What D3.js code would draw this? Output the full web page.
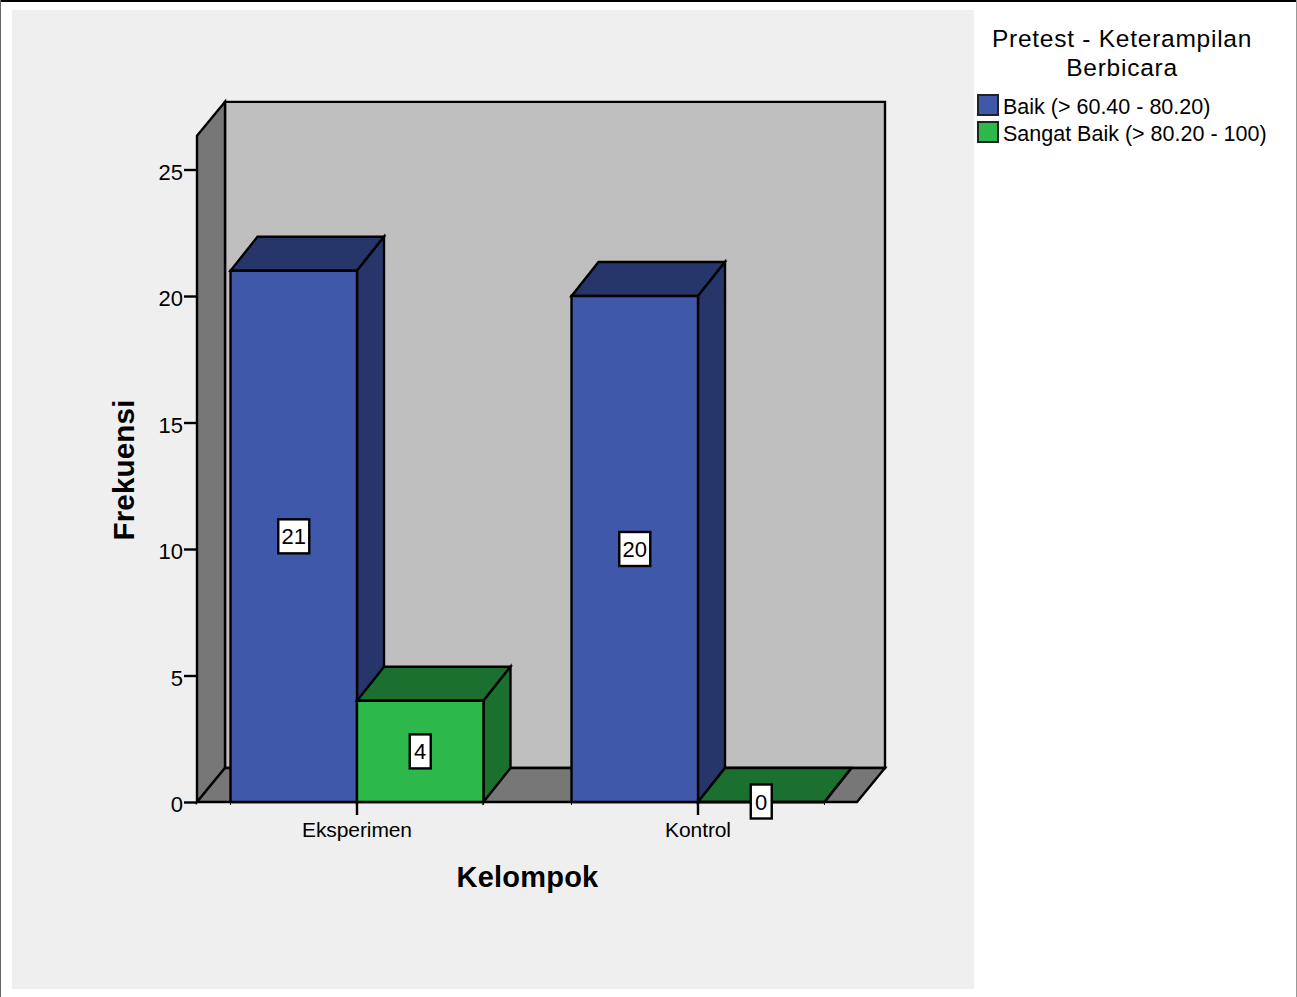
<!DOCTYPE html>
<meta charset="utf-8">
<style>
  body { margin: 0; background: #fff; }
  text { font-family: "Liberation Sans", Arial, sans-serif; fill: #000; }
</style>
<body>
<script src="https://d3js.org/d3.v7.min.js"></script>
<script>

var categories = ["Eksperimen", "Kontrol"];
var seriesNames = ["Baik (> 60.40 - 80.20)", "Sangat Baik (> 80.20 - 100)"];
var baikValues = [21, 20];
var sangatBaikValues = [4, 0];
var yTicks = [0, 5, 10, 15, 20, 25];
var legendTitle = ["Pretest - Keterampilan", "Berbicara"];
var xTitle = "Kelompok";
var yTitle = "Frekuensi";
var seriesValues = [baikValues, sangatBaikValues];

var width = 1297, height = 997;
var frontColors = ["#3f58a9", "#2db84b"];
var darkColors = ["#26366b", "#1c702f"];
var dx = 28, dy = -34;   // depth of the walls
var barDx = 27;          // depth of the bars
var axisTop = 26.33;     // value at the top of the front of the box

var svg = d3.select("body").append("svg")
  .attr("width", width)
  .attr("height", height)
  .style("display", "block");

// window edges
svg.append("rect").attr("x", 0).attr("y", 0).attr("width", width).attr("height", 2).attr("fill", "#000");
svg.append("rect").attr("x", 0).attr("y", 0).attr("width", 1).attr("height", height).attr("fill", "#666");
svg.append("rect").attr("x", width - 1).attr("y", 0).attr("width", 1).attr("height", height).attr("fill", "#999");

// chart panel
svg.append("rect").attr("x", 12).attr("y", 10).attr("width", 962).attr("height", 979).attr("fill", "#efefef");

var y = d3.scaleLinear().domain([0, 25]).range([802, 169.5]);
var x0 = d3.scaleBand().domain(categories).range([186.5, 868.5]);
var x1 = d3.scaleBand().domain(d3.range(seriesNames.length)).range([0, x0.bandwidth()])
  .paddingInner(0).paddingOuter(0.348);

var floorLeft = 197, floorRight = 857;
var yBase = y(0), yTop = y(axisTop);

function poly(points, fill) {
  return svg.append("polygon")
    .attr("points", points.map(function (p) { return p.join(","); }).join(" "))
    .attr("fill", fill)
    .attr("stroke", "#000")
    .attr("stroke-width", 2.4)
    .attr("stroke-linejoin", "miter");
}

// walls and floor
poly([[floorLeft + dx, yTop + dy], [floorRight + dx, yTop + dy], [floorRight + dx, yBase + dy], [floorLeft + dx, yBase + dy]], "#bfbfbf");
poly([[floorLeft, yTop], [floorLeft + dx, yTop + dy], [floorLeft + dx, yBase + dy], [floorLeft, yBase]], "#777777");
poly([[floorLeft, yBase], [floorLeft + dx, yBase + dy], [floorRight + dx, yBase + dy], [floorRight, yBase]], "#777777");

// bars
categories.forEach(function (cat, c) {
  seriesNames.forEach(function (name, s) {
    var v = seriesValues[s][c];
    var xa = x0(cat) + x1(s), xb = xa + x1.bandwidth(), yv = y(v);
    poly([[xa, yv], [xa + barDx, yv + dy], [xb + barDx, yv + dy], [xb, yv]], darkColors[s]);
    poly([[xb, yv], [xb + barDx, yv + dy], [xb + barDx, yBase + dy], [xb, yBase]], darkColors[s]);
    poly([[xa, yv], [xb, yv], [xb, yBase], [xa, yBase]], frontColors[s]);
    // small stubs under the bar corners
    svg.append("line").attr("x1", xa).attr("x2", xa).attr("y1", yBase).attr("y2", yBase + 3).attr("stroke", "#000");
    svg.append("line").attr("x1", xb).attr("x2", xb).attr("y1", yBase).attr("y2", yBase + 3).attr("stroke", "#000");
  });
});

// axes
var yAxis = svg.append("g")
  .attr("transform", "translate(" + floorLeft + ",0)")
  .call(d3.axisLeft(y).tickValues(yTicks).tickSize(13).tickPadding(1));
yAxis.select(".domain").remove();
yAxis.selectAll("line").attr("stroke-width", 2.4);
yAxis.selectAll("text").attr("font-size", 22).attr("font-family", null).attr("dy", "0.45em");

var xAxis = svg.append("g")
  .attr("transform", "translate(0," + yBase + ")")
  .call(d3.axisBottom(x0).tickSize(13).tickPadding(7));
xAxis.select(".domain").remove();
xAxis.selectAll("line").attr("stroke-width", 2.4);
xAxis.selectAll("text").attr("font-size", 21).attr("font-family", null).attr("letter-spacing", "-0.1");

// value labels
categories.forEach(function (cat, c) {
  seriesNames.forEach(function (name, s) {
    var v = seriesValues[s][c];
    var cx = x0(cat) + x1(s) + x1.bandwidth() / 2;
    var cy = (y(v) + yBase) / 2;
    var w = String(v).length > 1 ? 31 : 21;
    if (v === 0) cy = yBase - 0.5;
    svg.append("rect")
      .attr("x", cx - w / 2).attr("y", cy - 17)
      .attr("width", w).attr("height", 34)
      .attr("fill", "#fff").attr("stroke", "#000").attr("stroke-width", 2.4);
    svg.append("text")
      .attr("x", cx).attr("y", cy + 8)
      .attr("text-anchor", "middle")
      .attr("font-size", 22)
      .text(v);
  });
});

// axis titles
svg.append("text")
  .attr("x", 527.5).attr("y", 887)
  .attr("text-anchor", "middle")
  .attr("font-size", 29).attr("font-weight", "bold").attr("letter-spacing", "0.2")
  .text(xTitle);
svg.append("text")
  .attr("transform", "translate(134,470) rotate(-90)")
  .attr("text-anchor", "middle")
  .attr("font-size", 29.5).attr("font-weight", "bold").attr("letter-spacing", "0.2")
  .text(yTitle);

// legend
legendTitle.forEach(function (t, i) {
  svg.append("text")
    .attr("x", 1122).attr("y", 47 + i * 28.5)
    .attr("text-anchor", "middle")
    .attr("font-size", 24.5)
    .attr("letter-spacing", "0.75")
    .text(t);
});
seriesNames.forEach(function (name, i) {
  var ly = 95 + i * 27;
  svg.append("rect")
    .attr("x", 978).attr("y", ly)
    .attr("width", 20).attr("height", 20)
    .attr("fill", frontColors[i]).attr("stroke", "#222").attr("stroke-width", 2);
  svg.append("text")
    .attr("x", 1003).attr("y", ly + 19)
    .attr("font-size", 21.5)
    .text(name);
});

</script>
</body>
